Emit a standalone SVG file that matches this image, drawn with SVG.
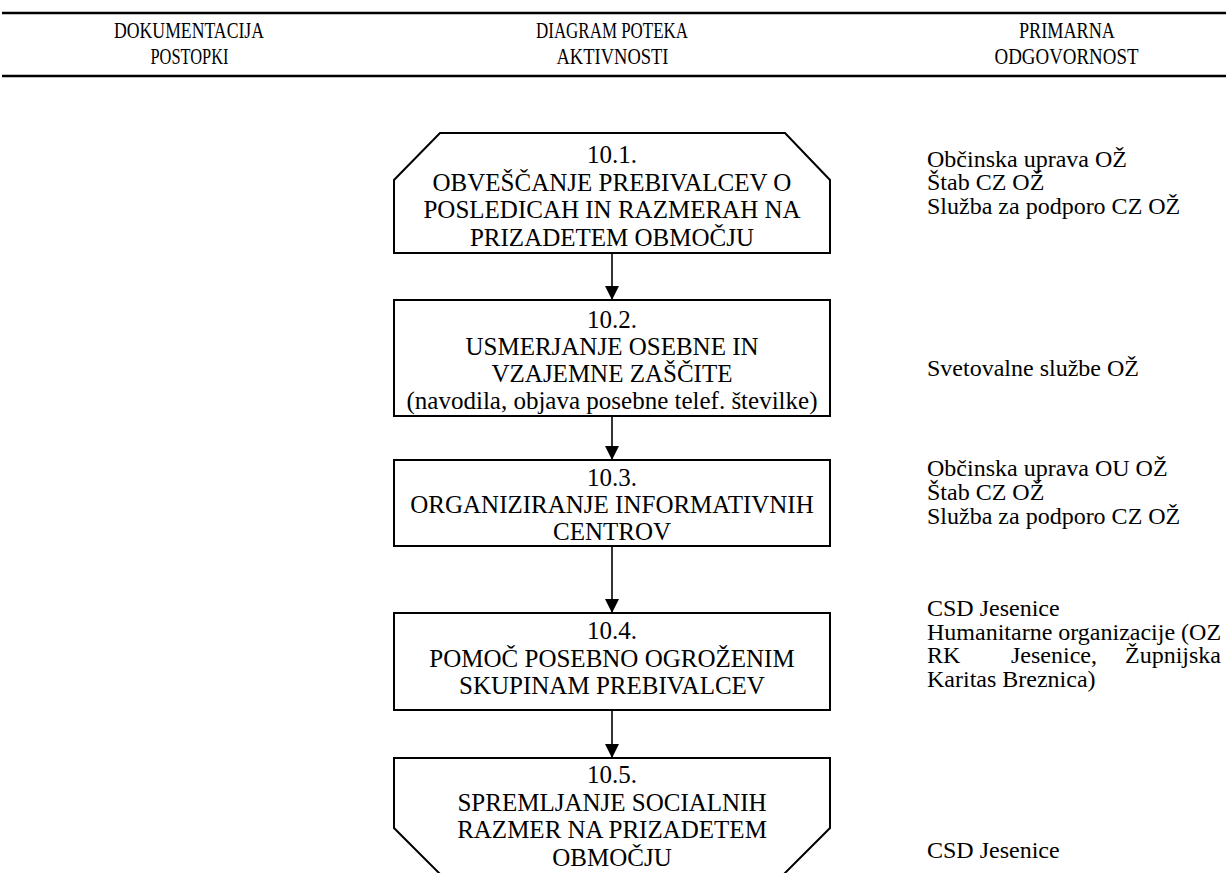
<svg xmlns="http://www.w3.org/2000/svg" width="1226" height="873" viewBox="0 0 1226 873">
<style>
text{font-family:"Liberation Serif","Times New Roman",serif;font-size:24px;fill:#000}
.hd{font-size:24px}
.c{text-anchor:middle}
.bx{font-size:25px}
.shape{fill:#fff;stroke:#000;stroke-width:2}
.rule{stroke:#000;stroke-width:2.5}
.conn{stroke:#000;stroke-width:1.6;fill:none}
</style>
<defs>
<marker id="ah" viewBox="0 0 14 14" refX="14" refY="7" markerWidth="14" markerHeight="14" markerUnits="userSpaceOnUse" orient="auto">
<path d="M0,0 L14,7 L0,14 Z" fill="#000"/>
</marker>
</defs>
<rect width="1226" height="873" fill="#fff"/>
<g id="header">
<line class="rule" x1="2" y1="13" x2="1226" y2="13"/>
<line class="rule" x1="2" y1="76" x2="1226" y2="76"/>
<text class="hd c" x="189" y="38" textLength="150" lengthAdjust="spacingAndGlyphs">DOKUMENTACIJA</text>
<text class="hd c" x="189.5" y="64" textLength="78" lengthAdjust="spacingAndGlyphs">POSTOPKI</text>
<text class="hd c" x="612" y="38" textLength="152" lengthAdjust="spacingAndGlyphs">DIAGRAM POTEKA</text>
<text class="hd c" x="612.5" y="64" textLength="112" lengthAdjust="spacingAndGlyphs">AKTIVNOSTI</text>
<text class="hd c" x="1067" y="38" textLength="96" lengthAdjust="spacingAndGlyphs">PRIMARNA</text>
<text class="hd c" x="1066.5" y="64" textLength="144" lengthAdjust="spacingAndGlyphs">ODGOVORNOST</text>
</g>
<g id="connectors">
<line class="conn" x1="612" y1="253" x2="612" y2="300" marker-end="url(#ah)"/>
<line class="conn" x1="612" y1="416" x2="612" y2="460" marker-end="url(#ah)"/>
<line class="conn" x1="612" y1="546" x2="612" y2="613" marker-end="url(#ah)"/>
<line class="conn" x1="612" y1="710" x2="612" y2="758" marker-end="url(#ah)"/>
</g>
<g id="n1">
<polygon class="shape" points="440,133 785,133 830,180 830,253 394,253 394,180"/>
<text class="c bx" x="612" y="163">10.1.</text>
<text class="c bx" x="612" y="191">OBVEŠČANJE PREBIVALCEV O</text>
<text class="c bx" x="612" y="218">POSLEDICAH IN RAZMERAH NA</text>
<text class="c bx" x="612" y="246">PRIZADETEM OBMOČJU</text>
</g>
<g id="n2">
<rect class="shape" x="394" y="300" width="436" height="116"/>
<text class="c bx" x="612" y="328">10.2.</text>
<text class="c bx" x="612" y="355">USMERJANJE OSEBNE IN</text>
<text class="c bx" x="612" y="382">VZAJEMNE ZAŠČITE</text>
<text class="c bx" x="612" y="409">(navodila, objava posebne telef. številke)</text>
</g>
<g id="n3">
<rect class="shape" x="394" y="460" width="436" height="86"/>
<text class="c bx" x="612" y="486">10.3.</text>
<text class="c bx" x="612" y="513">ORGANIZIRANJE INFORMATIVNIH</text>
<text class="c bx" x="612" y="540">CENTROV</text>
</g>
<g id="n4">
<rect class="shape" x="394" y="613" width="436" height="97"/>
<text class="c bx" x="612" y="639">10.4.</text>
<text class="c bx" x="612" y="667">POMOČ POSEBNO OGROŽENIM</text>
<text class="c bx" x="612" y="694">SKUPINAM PREBIVALCEV</text>
</g>
<g id="n5">
<polygon class="shape" points="394,758 830,758 830,828 783,875 441,875 394,828"/>
<text class="c bx" x="612" y="783">10.5.</text>
<text class="c bx" x="612" y="811">SPREMLJANJE SOCIALNIH</text>
<text class="c bx" x="612" y="838">RAZMER NA PRIZADETEM</text>
<text class="c bx" x="612" y="866">OBMOČJU</text>
</g>
<g id="responsibility">
<text x="927" y="167">Občinska uprava OŽ</text>
<text x="927" y="190">Štab CZ OŽ</text>
<text x="927" y="214">Služba za podporo CZ OŽ</text>
<text x="927" y="376">Svetovalne službe OŽ</text>
<text x="927" y="476">Občinska uprava OU OŽ</text>
<text x="927" y="500">Štab CZ OŽ</text>
<text x="927" y="524">Služba za podporo CZ OŽ</text>
<text x="927" y="616">CSD Jesenice</text>
<text x="927" y="640">Humanitarne organizacije (OZ</text>
<text x="927" y="663">RK</text>
<text x="1011" y="663">Jesenice,</text>
<text x="1221" y="663" text-anchor="end">Župnijska</text>
<text x="927" y="687">Karitas Breznica)</text>
<text x="927" y="858">CSD Jesenice</text>
</g>
</svg>
